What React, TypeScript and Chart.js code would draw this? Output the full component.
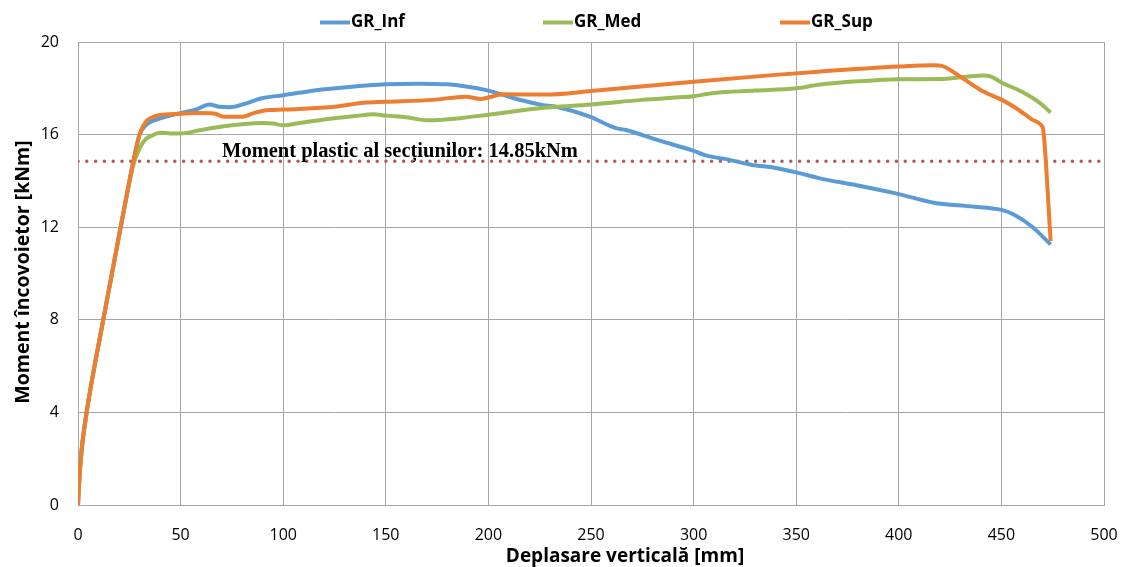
import React, { useEffect, useRef } from "react";
import { Chart, registerables } from "chart.js";

Chart.register(...registerables);

// ---- data ----
const infX = [0, 0.7, 1.8, 4.2, 12.3, 20.8, 27, 30, 33, 40, 50, 58, 64, 69, 74, 82, 90, 100, 116, 132, 150, 166, 180, 189, 200, 212, 226, 233, 250, 262, 267, 283, 300, 306, 317, 328, 340, 350, 361, 380, 400, 417, 435, 450, 456, 465, 474];
const infY = [0, 1.2, 2.4, 4, 8, 12, 14.85, 16.0, 16.4, 16.7, 16.93, 17.1, 17.3, 17.2, 17.18, 17.35, 17.58, 17.7, 17.92, 18.06, 18.17, 18.2, 18.17, 18.08, 17.9, 17.58, 17.28, 17.2, 16.75, 16.28, 16.2, 15.75, 15.3, 15.1, 14.92, 14.7, 14.56, 14.37, 14.12, 13.8, 13.43, 13.06, 12.9, 12.75, 12.55, 12.02, 11.25];

const medX = [0, 0.7, 1.8, 4.2, 12.3, 20.8, 27, 30, 33, 37, 40, 45, 50, 60, 70, 80, 90, 95, 100, 108, 120, 135, 144, 150, 160, 170, 185, 200, 226, 250, 275, 295, 300, 310, 330, 350, 361, 380, 400, 420, 433, 441, 445, 450, 460, 469, 474];
const medY = [0, 1.2, 2.4, 4, 8, 12, 14.7, 15.4, 15.8, 16.0, 16.08, 16.05, 16.05, 16.2, 16.35, 16.45, 16.5, 16.48, 16.4, 16.5, 16.65, 16.8, 16.88, 16.82, 16.75, 16.62, 16.7, 16.86, 17.15, 17.3, 17.5, 17.62, 17.66, 17.8, 17.9, 18.0, 18.15, 18.3, 18.39, 18.4, 18.5, 18.55, 18.5, 18.25, 17.85, 17.35, 16.95];

const supX = [0, 0.7, 1.8, 4.2, 12.3, 20.8, 27, 30, 33, 37, 40, 50, 58, 64, 67, 71, 80, 86, 93, 100, 116, 125, 139, 150, 173, 189, 196, 200, 207, 228, 250, 300, 340, 361, 400, 417, 421, 430, 441, 450, 457, 465, 469.5, 470.4, 474];
const supY = [0, 1.2, 2.4, 4, 8, 12, 14.85, 16.0, 16.55, 16.78, 16.85, 16.9, 16.93, 16.92, 16.9, 16.77, 16.77, 16.94, 17.06, 17.08, 17.15, 17.2, 17.38, 17.42, 17.5, 17.64, 17.54, 17.6, 17.74, 17.73, 17.88, 18.28, 18.58, 18.72, 18.94, 19.0, 18.97, 18.5, 17.87, 17.51, 17.15, 16.65, 16.4, 16.2, 11.4];

const seriesLabels = ["GR_Inf", "GR_Med", "GR_Sup"];
const seriesColors = ["#5b9bd5", "#9bbb59", "#ed7d31"];
const plasticMoment = 14.85;
const plasticLabel = "Moment plastic al secțiunilor: 14.85kNm";
const xTitle = "Deplasare verticală [mm]";
const yTitle = "Moment încovoietor [kNm]";
const xMin = 0, xMax = 500, xStep = 50;
const yMin = 0, yMax = 20, yStep = 4;

const toPts = (xs: number[], ys: number[]) => xs.map((x, i) => ({ x, y: ys[i] }));

export default function App() {
  const ref = useRef<HTMLCanvasElement | null>(null);

  useEffect(() => {
    if (!ref.current) return;

    const overlay = {
      id: "overlay",
      afterDraw(chart: any) {
        const ctx = chart.ctx;
        const xs = chart.scales.x;
        const ys = chart.scales.y;
        ctx.save();
        // annotation text
        ctx.fillStyle = "#000";
        ctx.font = "bold 20.5px 'Liberation Serif', serif";
        ctx.textBaseline = "alphabetic";
        ctx.textAlign = "left";
        ctx.fillText(plasticLabel, xs.getPixelForValue(70.2), ys.getPixelForValue(15.05));

        // axis titles
        ctx.font = "bold 19px 'Open Sans', sans-serif";
        ctx.textAlign = "center";
        ctx.textBaseline = "alphabetic";
        ctx.fillText(xTitle, 625, 562);
        ctx.save();
        ctx.translate(29, 272);
        ctx.rotate(-Math.PI / 2);
        ctx.font = "bold 19.5px 'Open Sans', sans-serif";
        ctx.fillText(yTitle, 0, 0);
        ctx.restore();

        // legend
        const legendX = [320, 543, 780];
        ctx.font = "bold 17px 'Open Sans', sans-serif";
        ctx.textAlign = "left";
        ctx.textBaseline = "middle";
        seriesLabels.forEach((lab, i) => {
          ctx.strokeStyle = seriesColors[i];
          ctx.lineWidth = 4;
          ctx.beginPath();
          ctx.moveTo(legendX[i], 22.5);
          ctx.lineTo(legendX[i] + 30, 22.5);
          ctx.stroke();
          ctx.fillStyle = "#000";
          ctx.fillText(lab, legendX[i] + 31, 22);
        });
        ctx.restore();
      },
    };

    const chart = new Chart(ref.current, {
      type: "scatter",
      data: {
        datasets: [
          {
            label: seriesLabels[2],
            data: toPts(supX, supY),
            borderColor: seriesColors[2],
            backgroundColor: seriesColors[2],
            borderWidth: 4,
            showLine: true,
            pointRadius: 0,
            cubicInterpolationMode: "monotone",
            order: 1,
          },
          {
            label: seriesLabels[1],
            data: toPts(medX, medY),
            borderColor: seriesColors[1],
            backgroundColor: seriesColors[1],
            borderWidth: 4,
            showLine: true,
            pointRadius: 0,
            cubicInterpolationMode: "monotone",
            order: 2,
          },
          {
            label: seriesLabels[0],
            data: toPts(infX, infY),
            borderColor: seriesColors[0],
            backgroundColor: seriesColors[0],
            borderWidth: 4,
            showLine: true,
            pointRadius: 0,
            cubicInterpolationMode: "monotone",
            order: 3,
          },
          {
            label: "plastic",
            data: [
              { x: xMin, y: plasticMoment },
              { x: xMax, y: plasticMoment },
            ],
            borderColor: "#b0585a",
            borderWidth: 3.5,
            borderDash: [0, 8.8],
            borderCapStyle: "round",
            showLine: true,
            pointRadius: 0,
            order: 4,
          },
        ],
      },
      options: {
        responsive: false,
        animation: false,
        maintainAspectRatio: false,
        layout: { padding: { top: 42, right: 20, left: 0, bottom: 0 } },
        plugins: {
          legend: { display: false },
          tooltip: { enabled: false },
        },
        scales: {
          x: {
            type: "linear",
            min: xMin,
            max: xMax,
            ticks: {
              stepSize: xStep,
              padding: 21,
              color: "#000",
              font: { family: "'Open Sans', sans-serif", size: 16 },
              maxRotation: 0,
            },
            grid: { color: "#a6a6a6", lineWidth: 1, drawTicks: false },
            border: { display: true, color: "#a6a6a6" },
            afterFit: (s: any) => {
              s.height = 62;
              s.paddingRight = 0;
              s.paddingLeft = 0;
            },
          },
          y: {
            type: "linear",
            min: yMin,
            max: yMax,
            ticks: {
              stepSize: yStep,
              padding: 19,
              color: "#000",
              font: { family: "'Open Sans', sans-serif", size: 16 },
            },
            grid: { color: "#a6a6a6", lineWidth: 1, drawTicks: false },
            border: { display: true, color: "#a6a6a6" },
            afterFit: (s: any) => {
              s.width = 78;
              s.paddingTop = 0;
              s.paddingBottom = 0;
            },
          },
        },
      },
      plugins: [overlay],
    });

    return () => chart.destroy();
  }, []);

  return (
    <div style={{ position: "fixed", left: 0, top: 0, width: 1124, height: 567, background: "#fff" }}>
      <canvas ref={ref} width={1124} height={567} style={{ display: "block" }} />
    </div>
  );
}
